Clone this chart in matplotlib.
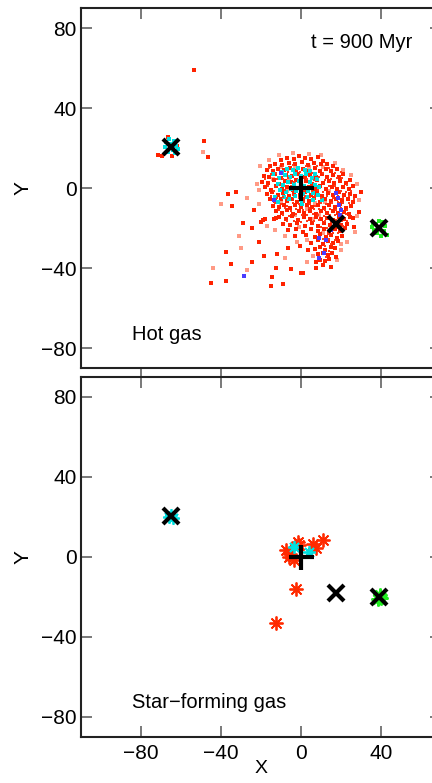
import matplotlib
matplotlib.use("Agg")
import matplotlib.pyplot as plt

plt.rcParams['font.family'] = ['Liberation Sans', 'DejaVu Sans']

# ---------------- data ----------------
hot_red = [
    (-53.7, 59), (-48.3, 23.5), (-46.3, 15.7), (-36.7, -3.2), (-32.5, -2.2), (-34.7, -8.8),
    (-29.2, -17.7), (-24.7, -19.8), (-23.7, -11), (-19.2, -16), (-18.2, -15.5), (-19.8, -16.8),
    (-13.3, -15.7), (-12.5, -14.8), (-20.8, -26.8), (-37.5, -32.2), (-35, -38.2), (-24.7, -36.8),
    (-18.3, -34), (-12, -33), (-12.5, -39.8), (-14.7, -44.3), (-37.5, -46.3), (-45, -47.7),
    (-9.2, -48), (-15, -49), (0, -42.7), (0.8, -42.3), (-5, -40.7), (-6.7, -30.2), (-0.3, -29),
    (3.3, -31), (7.5, -40.2), (15, -39.3), (7.5, -36.8), (30, -2.2), (29.2, -11.8), (25.8, -15.2),
    (26.7, -19.3), (17.5, -34.3), (-66.7, 25.3), (-71.7, 16.5), (-69.7, 16), (-64.7, 16), (-62, 21),
    (-7, 15.2), (-3.5, 14.6), (-1, 16), (2.2, 15), (5, 14.3), (8.5, 15.6), (-10, 13.8), (11, 13.4),
    (-13, 12.2), (-9.6, 11.5), (-6.2, 12.6), (-3, 11.8), (0.4, 12.9), (3.6, 11.4), (6.5, 12.5),
    (9.8, 11.9), (13, 12.1), (-15.5, 10.8), (15.8, 10.9),
    (-17.2, 9.1), (-14, 8.5), (-11.4, 9.7), (-8.3, 8.8), (-5.5, 9.9), (-2.4, 8.4), (0.9, 9.6),
    (3.8, 8.7), (6.9, 9.8), (9.5, 8.3), (12.4, 9.4), (15.1, 8.6), (18, 9.5),
    (-18.5, 6.2), (-15.8, 5.5), (-12.9, 6.8), (-10.2, 5.2), (-7.4, 6.5), (-4.3, 5.8), (-1.5, 7),
    (1.8, 5.4), (4.7, 6.6), (7.6, 5.7), (10.3, 6.9), (13.2, 5.3), (16, 6.4), (18.8, 5.6), (21.2, 6.8),
    (-19.5, 3.1), (-16.7, 2.4), (-13.6, 3.8), (-11, 2.2), (-8.1, 3.6), (-5.2, 2.8), (-2.6, 4.1),
    (2.6, 3.3), (5.4, 2.1), (8.2, 3.9), (11.1, 2.7), (13.9, 3.5), (16.6, 2.3), (19.4, 3.7),
    (22.3, 2.6), (24.5, 4.2),
    (-18.1, 0.4), (-15.2, -0.8), (-12.3, 0.9), (-9.5, -0.3), (-6.8, 0.7), (-4, -0.9), (4.1, 0.5),
    (6.9, -0.6), (9.6, 0.8), (12.5, -0.4), (15.3, 0.6), (18.2, -0.7), (21, 0.3), (23.8, -0.5),
    (26.2, 0.9),
    (-17, -2.9), (-14.4, -2.2), (-11.7, -3.6), (-8.8, -2.5), (-6.1, -3.8), (-3.3, -2.4), (-0.6, -3.5),
    (2.2, -2.1), (5, -3.3), (7.8, -2.6), (10.5, -3.9), (13.4, -2.3), (16.1, -3.4), (18.9, -2.2),
    (21.7, -3.7), (24.6, -2.8), (27, -3.9),
    (-15.6, -5.6), (-12.8, -6.4), (-10, -5.3), (-7.2, -6.7), (-4.5, -5.5), (-1.8, -6.9), (1, -5.4),
    (3.9, -6.5), (6.6, -5.2), (9.4, -6.8), (12.2, -5.7), (15, -6.6), (17.7, -5.3), (20.5, -6.2),
    (23.3, -5.6), (25.8, -6.9),
    (-14, -8.8), (-11.1, -9.6), (-8.4, -8.4), (-5.6, -9.9), (-2.9, -8.6), (0.1, -9.7), (2.8, -8.3),
    (5.7, -9.5), (8.5, -8.7), (11.3, -9.9), (14.1, -8.5), (16.9, -9.4), (19.7, -8.2), (22.4, -9.8),
    (25.1, -8.9),
    (-12.5, -11.6), (-9.7, -12.4), (-6.9, -11.2), (-4.1, -12.9), (-1.2, -11.5), (1.7, -12.6),
    (4.6, -11.3), (7.4, -12.8), (10.2, -11.7), (13, -12.5), (15.8, -11.4), (18.5, -12.7),
    (21.3, -11.8), (24, -12.9),
    (-10.8, -14.6), (-7.6, -15.4), (-4.5, -14.2), (-1.6, -15.8), (1.5, -14.5), (4.4, -15.6),
    (7.3, -14.3), (10.1, -15.5), (13.2, -14.8), (16, -15.9), (18.8, -14.4), (21.6, -15.3), (24.3, -14.7),
    (-8.9, -17.9), (-5.3, -18.6), (-1.8, -17.4), (1.9, -18.8), (5.3, -17.6), (8.4, -18.9),
    (11.4, -17.3), (14.3, -18.5), (17.1, -17.2), (19.9, -18.7), (22.8, -17.8),
    (-6.5, -21.2), (-2.7, -20.5), (1.2, -21.8), (5.1, -20.3), (8.6, -21.5), (11.5, -20.4),
    (14.2, -21.9), (16.8, -20.6), (19.4, -21.3), (22, -20.2),
    (-3.1, -24.1), (2.5, -23.4), (6.8, -24.7), (9.7, -23.2), (12.4, -24.6), (15.1, -23.5),
    (17.8, -24.9), (20.3, -23.8),
    (5.2, -27.3), (8.3, -26.2), (10.9, -27.8), (13.6, -26.5), (16.2, -27.6), (18.7, -26.3),
    (7.1, -30.4), (9.6, -29.3), (12.2, -30.8), (14.8, -29.6), (17.2, -30.2),
    (8.4, -33.1), (10.8, -32.3), (13.3, -33.7), (15.6, -32.6),
    (9.5, -35.8), (11.9, -36.6), (14.2, -35.4), (11, -38.3),
]
hot_red_dense = [
    (-16, 10), (-12.5, 7.5), (-9, 11), (-6.5, 8), (-3.8, 11.3), (-0.5, 8), (2.5, 10.8), (5.5, 7.5),
    (8.2, 10.8), (11, 7.6), (14, 10), (17, 7.6), (19.8, 8),
    (-17.8, 4.5), (-14.8, 6.8), (-12, 4.4), (-9.2, 4.5), (-6.4, 5.1), (-3.5, 3.1), (0.2, 4.6),
    (3.2, 4.6), (6.3, 3.8), (9.1, 5.6), (12, 4.2), (15, 4.5), (17.8, 4.8), (20.6, 4.9), (23, 1.5),
    (-16.5, 1), (-13.5, -1.6), (-10.6, 1.4), (-7.8, -1.2), (-4.8, 1.2), (-1.8, -0.5), (1.5, -1),
    (5.6, -1.6), (8.5, -1.2), (11, -1.8), (14, 0.8), (17, 1), (19.8, -1.5), (22.5, -1.8), (25.2, -1.5),
    (-15, -4), (-12, -5), (-9.2, -4.4), (-6.8, -5), (-3.8, -3.6), (-1, -5), (1.8, -4), (4.5, -4.5),
    (7.2, -4.2), (10, -5), (13, -4.2), (15.8, -4.8), (18.5, -4), (21.2, -5), (24, -4), (26.5, -5.5),
    (-13, -7.5), (-9.8, -8), (-7, -9.2), (-4, -7.6), (-1.2, -8.2), (1.6, -7.1), (4.3, -8), (7.1, -9),
    (9.9, -7.4), (12.7, -8), (15.5, -7.6), (18.3, -7), (21.1, -7.5), (23.8, -7.4),
    (-11, -10.8), (-8, -10.2), (-5.2, -11.6), (-2.3, -10.6), (1, -11), (3.8, -10), (6.3, -10.6),
    (9, -10.6), (12, -10.9), (14.6, -10.3), (17.5, -11), (20.2, -10.2), (23, -10.9),
    (-9, -13.5), (-6, -13.8), (-2.6, -13.1), (0.3, -13.4), (3, -13.3), (6, -12.9), (8.7, -13.5),
    (11.6, -13.9), (14.4, -13.3), (17.2, -13.7), (20, -13.6), (22.7, -13.2),
    (-7, -16.5), (-3.3, -16.4), (0, -16.9), (3.2, -16.3), (6.7, -16.7), (9.2, -16.2), (12, -16.5),
    (14.8, -16.8), (17.6, -16.2), (20.5, -16.5), (23.2, -16.4),
    (10, -19.5), (13, -19.8), (15.8, -19.2), (18.5, -19.8), (21, -19), (13.3, -22.8), (16, -22.3),
    (18.6, -22.6), (11, -25.4), (14, -25.5), (16.8, -25.8), (12, -28.8), (15, -28), (11.4, -31.5),
    (13.8, -31.4), (12.5, -34.5),
]
hot_pink = [
    (-49, 18), (-40, -8), (-27, -5), (-22, 2), (-20.5, 11), (-16, 14), (-11, 16.5), (-4, 17.5),
    (4, 17), (10, 16.5), (17, 12.5), (21, 9), (25, 6.5), (28, 2), (29, -6), (28, -14), (27, -22),
    (23, -27), (20, -31), (18, -36), (6, -34), (3, -26), (-2, -27), (-8, -24), (-13, -21),
    (-17, -19), (-21, -8), (-21, -1), (-10, 10.5), (-3, 10), (4, 10.5), (11, 10.5), (-14, 4.5),
    (-6, 4), (8, 4.5), (14, -1.5), (-7, -1.5), (0, -5), (7, -7.5), (-10, -7.5), (3, -10.5),
    (-3, -13.5), (9, -13.5), (15, -19.5), (11, -22.5), (6, -15.5), (-1, -19.5), (18, -1),
    (20, -14), (12, -7), (-30, -30), (-27, -41), (-8, -35), (3, -37), (20, -28), (-44, -40), (-31, -24),
]
hot_cyan = [
    (-9.5, 8.2), (-7, 9.5), (-4.2, 8.8), (-1.5, 10.2), (1.8, 9.2), (4.5, 8.5), (7.2, 7.1),
    (-10.8, 5.1), (-8.2, 6.3), (-5.6, 5.5), (-3, 6.8), (-0.2, 5.9), (2.7, 6.8), (5.3, 5.2),
    (8.1, 4.4), (-11.3, 2.2), (-8.9, 1.4), (-6.3, 2.9), (-3.7, 1.8), (-1.1, 3.3), (1.5, 1.1),
    (4.4, 2.9), (7, 1.6), (9.2, 0.4), (-10.4, -1.2), (-7.7, -2.1), (-5.1, -0.6), (-2.4, -1.6),
    (0.9, -2.8), (3.6, -1.3), (6.2, -2.7), (8.6, -3.4), (-8.5, -4.6), (-5.8, -5.4), (-3.1, -4.2),
    (0, -5.8), (2.9, -4.6), (5.8, -5.9), (-13, -4.5), (-11.5, -6.8), (0.5, -8), (-14, 7), (10.5, -6),
    (-67.5, 23), (-66, 24.5), (-63.5, 23.5), (-62.5, 21), (-64, 19), (-66.5, 18), (-68, 20.5),
    (-63, 17.5), (-65.5, 22), (-61.5, 19.5),
]
hot_blue = [
    (17.5, -2.7), (18.3, -5.2), (19.2, -8.5), (20, -11), (19.7, -13.5), (15, -21), (12.5, -26),
    (11.7, -32.7), (9.2, -35.2), (-10, 7.3), (-13.7, -6), (9.2, -25.2), (-28.3, -44),
]
hot_green = [
    (36, -17.5), (37.5, -18.2), (40.5, -17), (42, -19), (41.5, -21.5), (38, -22.5), (36.5, -21),
    (40, -24), (43, -23.5), (35.5, -19.5), (39, -16.5),
]

sf_red = [
    (-1.7, 7.7), (-1, 6.2), (-7.5, 3.5), (-5.5, 1.5), (-3.3, -1.5), (-6, 0), (5.8, 6.5),
    (7.5, 4.5), (10.8, 8.5), (-2.5, -16), (-12.5, -33),
]
sf_cyan = [(-3.3, 4.8), (4.2, 2.7), (-65, 21), (-64, 19.5), (-66, 20)]
sf_green = [(39.5, -19), (38.5, -21), (40, -20.5)]

halo_plus = [(0, 0)]
halo_cross = [(17.5, -18), (39, -20), (-65, 20.5)]

yticks = [-80, -40, 0, 40, 80]
xticks = [-80, -40, 0, 40]
time_label = "t = 900 Myr"
panel_titles = ["Hot gas", "Star\u2212forming gas"]

# ---------------- figure ----------------
W, H = 432, 783
fig = plt.figure(figsize=(W / 100, H / 100), dpi=100)

def frame(px_left, px_top, px_w, px_h):
    return [px_left / W, 1 - (px_top + px_h) / H, px_w / W, px_h / H]

ax1 = fig.add_axes(frame(81, 8, 360, 360))
ax2 = fig.add_axes(frame(81, 377, 360, 360))

def xy(pts):
    return [p[0] for p in pts], [p[1] for p in pts]

PS = 5
# top panel
x, y = xy(hot_pink)
ax1.scatter(x, y, s=PS, marker='s', color='#ff9a85', linewidths=0)
x, y = xy(hot_red)
ax1.scatter(x, y, s=PS, marker='s', color='#ff2200', linewidths=0)
x, y = xy(hot_cyan)
ax1.scatter(x, y, s=PS, marker='s', color='#00e0e0', linewidths=0)
x, y = xy(hot_red_dense)
ax1.scatter(x, y, s=PS - 1, marker='s', color='#ff3a18', linewidths=0)
x, y = xy(hot_blue)
ax1.scatter(x, y, s=PS, marker='s', color='#4a3cff', linewidths=0)
x, y = xy(hot_green)
ax1.scatter(x, y, s=PS, marker='s', color='#22ee22', linewidths=0)

# bottom panel
x, y = xy(sf_red)
ax2.plot(x, y, ls='none', marker=(8, 2, 0), ms=10, mew=1.3, color='#ff2a00')
x, y = xy(sf_cyan)
ax2.plot(x, y, ls='none', marker=(8, 2, 0), ms=9, mew=1.3, color='#00e0e0')
x, y = xy(sf_green)
ax2.plot(x, y, ls='none', marker=(8, 2, 0), ms=10, mew=1.6, color='#22ee22')

for ax in (ax1, ax2):
    x, y = xy(halo_plus)
    ax.plot(x, y, ls='none', marker='+', ms=18, mew=3, color='black')
    x, y = xy(halo_cross)
    ax.plot(x, y, ls='none', marker='x', ms=11, mew=3, color='black')
    ax.set_xlim(-110, 70)
    ax.set_ylim(-90, 90)
    ax.set_yticks(yticks)
    ax.set_xticks(xticks)
    for s in ax.spines.values():
        s.set_linewidth(1.5)
        s.set_color('#222222')
    ax.tick_params(axis='both', which='both', direction='in', length=8, width=1.1,
                   color='#555555', labelsize=15, top=True, right=True)
    ax.tick_params(axis='y', pad=3)
    ax.tick_params(axis='x', pad=5)
    ax.set_ylabel('Y', fontsize=15, labelpad=6)

ax1.tick_params(axis='x', labelbottom=False, bottom=False)
sec = ax1.secondary_xaxis('bottom')
sec.set_xticks(xticks)
sec.tick_params(direction='out', length=6, width=1.1, color='#555555', labelbottom=False)
sec.spines['bottom'].set_visible(False)

ax1.text(5, 72.5, time_label, fontsize=14.5, va='center', ha='left')
ax1.text(-84.5, -73, panel_titles[0], fontsize=14.5, va='center', ha='left')
ax2.text(-84.5, -73, panel_titles[1], fontsize=14.5, va='center', ha='left')
ax2.set_xlabel('X', fontsize=14, labelpad=-2)

fig.savefig('out.png', dpi=100)
